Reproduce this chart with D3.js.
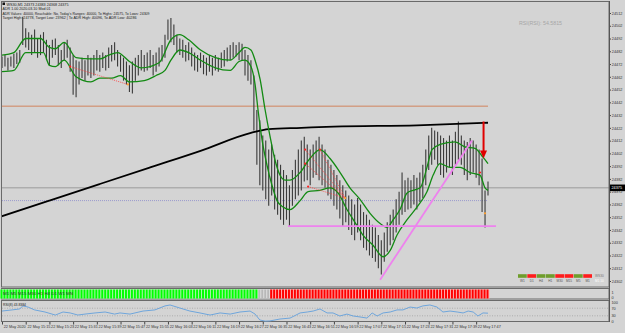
<!DOCTYPE html>
<html>
<head>
<meta charset="utf-8">
<script src="https://cdn.jsdelivr.net/npm/d3@7"></script>
<style>
  body { margin: 0; background: #d4d4d4; }
  svg { display: block; font-family: "Liberation Sans", Arial, sans-serif; }
</style>
</head>
<body>
<svg id="chart" width="625" height="333"></svg>
<script>
// WS30 M1 bars, 22 May 2020
const highs = [
  24478,24479,24477,24478,24480,24481,24483,24509,24500,24497,
  24495,24499,24492,24495,24497,24491,24487,24491,24492,24487,
  24483,24489,24491,24485,24479,24475,24474,24477,24475,24479,
  24477,24479,24483,24479,24481,24479,24485,24487,24489,24483,
  24479,24477,24474,24471,24474,24477,24479,24483,24479,24481,
  24483,24479,24481,24485,24487,24495,24507,24508,24503,24495,
  24492,24491,24487,24489,24485,24481,24479,24481,24479,24477,
  24479,24477,24479,24477,24481,24483,24485,24487,24489,24487,
  24489,24488,24483,24479,24475,24463,24436,24428,24416,24412,
  24405,24409,24401,24397,24393,24389,24385,24377,24389,24397,
  24405,24412,24415,24409,24405,24409,24412,24415,24409,24405,
  24397,24393,24389,24385,24381,24377,24373,24369,24366,24362,
  24367,24362,24356,24354,24350,24346,24344,24338,24334,24340,
  24348,24354,24358,24366,24372,24387,24381,24383,24381,24385,
  24383,24387,24393,24405,24416,24422,24420,24419,24416,24414,
  24412,24416,24412,24419,24427,24416,24412,24411,24414,24412,
  24409,24405,24398,24373,24380
];
const lows = [
  24469,24470,24467,24470,24469,24472,24473,24487,24485,24483,
  24479,24481,24477,24479,24481,24475,24471,24477,24479,24471,
  24469,24475,24477,24466,24448,24446,24456,24461,24459,24463,
  24461,24463,24467,24466,24469,24467,24469,24474,24475,24470,
  24466,24459,24456,24450,24449,24459,24463,24467,24466,24467,
  24469,24463,24466,24470,24474,24477,24491,24489,24487,24481,
  24479,24477,24474,24475,24470,24467,24466,24469,24464,24463,
  24466,24463,24467,24466,24469,24470,24474,24475,24477,24478,
  24475,24475,24463,24459,24456,24420,24393,24377,24373,24366,
  24361,24369,24358,24354,24350,24346,24350,24345,24361,24366,
  24369,24373,24380,24381,24377,24383,24385,24381,24377,24375,
  24369,24366,24361,24358,24351,24345,24348,24342,24338,24334,
  24340,24334,24328,24326,24322,24320,24317,24312,24307,24317,
  24325,24330,24334,24340,24346,24354,24356,24358,24359,24362,
  24358,24364,24367,24377,24389,24393,24397,24393,24385,24383,
  24387,24391,24385,24393,24397,24393,24385,24381,24385,24387,
  24383,24377,24356,24344,24369
];

// indicator lines as [bar index, price]
const maLine = [[-1,24352],[16,24365],[33,24378],[50,24391],[67,24404],[84,24418],
  [90,24421],[101,24422],[112,24423],[140,24424],[164,24426]];
const upperBand = [[0,24479],[4,24481],[8,24492],[13,24492],[16,24485],[18,24484],[21,24489],
  [25,24477],[30,24476],[33,24476],[36,24479],[39,24481],[43,24474],[47,24469],[53,24473],
  [57,24491],[60,24495],[63,24491],[67,24483],[72,24477],[77,24475],[80,24481],[82,24485],
  [84,24483],[85.4,24475],[87.1,24460],[88.8,24436],[90.4,24416],[92.1,24397],[93.8,24385],
  [95.5,24381],[97.2,24381],[100.6,24387],[103.9,24398],[107.3,24405],[110.7,24398],
  [114.1,24387],[117.4,24375],[120.8,24366],[124.2,24355],[127.6,24347],[129.9,24344],
  [132,24350],[134.3,24358],[136.7,24371],[138.7,24373],[141.1,24375],[143.4,24391],
  [145.1,24405],[147.8,24409],[152.9,24411],[156.3,24407],[159.6,24406],[162.3,24399],[164,24394]];
const lowerBand = [[0,24466],[4,24467],[8,24481],[14,24481],[16,24471],[18,24470],[21,24475],
  [25,24462],[30,24458],[33,24461],[37,24461],[40,24463],[43,24458],[48,24459],[52,24463],
  [55,24467],[57,24475],[60,24483],[63,24481],[67,24475],[72,24469],[77,24467],[80,24474],
  [82,24475],[84,24470],[85.4,24456],[86.4,24436],[87.8,24412],[89.4,24393],[91.1,24377],
  [92.8,24365],[94.8,24360],[97.2,24358],[100.6,24365],[103.3,24372],[107.3,24373],
  [110.7,24375],[113.4,24371],[116.4,24358],[119.1,24348],[121.8,24338],[125.2,24330],
  [128.6,24321],[131,24326],[133.3,24338],[136.7,24350],[140.4,24361],[143.4,24372],
  [145.5,24385],[147.8,24394],[151.2,24391],[154.6,24391],[158,24387],[161.3,24385],
  [163,24375],[164,24373]];

// drawn objects
const pinkLines = [[[96.5,24345],[166.7,24345]], [[127.6,24303],[158.6,24412]]];
const redDotted = [[[23,24470],[42.5,24456]], [[102.3,24405],[115.8,24367]],
  [[107.3,24405],[115.8,24367]], [[102.3,24394],[115.8,24367]], [[103.3,24376],[115.8,24367]]];
const redDots = [[23,24470],[102.3,24405],[107.3,24405],[102.3,24394],[103.3,24376],[161.3,24387]];
const orangeDots = [[42.5,24456],[115.8,24367],[163,24355]];
const arrow = { idx: 162.5, from: 24427, to: 24398 };
const orangeLevel = 24439;
const dottedLevel = 24365;
const bidPrice = 24375;

const priceTicks = d3.range(24512, 24301, -10);
const timeIdx = d3.range(0, 161, 8);
const timeLabels = ["22 May 2020","22 May 15:15","22 May 15:23","22 May 15:31","22 May 15:39",
  "22 May 15:47","22 May 15:55","22 May 16:03","22 May 16:11","22 May 16:19","22 May 16:27",
  "22 May 16:35","22 May 16:43","22 May 16:51","22 May 16:59","22 May 17:07","22 May 17:15",
  "22 May 17:23","22 May 17:31","22 May 17:39","22 May 17:47"];

// trend histogram runs and RSI(8)
const histRuns = [["up", 87], ["flat", 4], ["down", 74]];
const rsiPoints = [[0,55],[3.4,61],[6,66],[7,82],[8.8,76],[11,61],[14.5,50],[18,34],[20.6,50],
  [23,45],[25.6,34],[28,39],[31.4,45],[34.8,50],[38,39],[39.8,45],[43.2,39],[47.6,55],[51.6,61],
  [55,82],[56.7,87],[60,71],[63.4,55],[66.8,45],[70.2,34],[73.6,45],[77,39],[80.3,50],[83.7,55],
  [85.4,39],[87,8],[88.8,2],[90.4,3],[93.8,13],[97.2,18],[100.6,45],[103,50],[105,55],[107.3,66],
  [109.7,45],[111.7,45],[114,29],[116.4,39],[118.5,29],[120.8,24],[123.2,18],[124.9,45],[126.6,29],
  [128.6,45],[131,50],[133.3,61],[135.3,61],[137.7,76],[140,71],[142,82],[144.4,87],[146.8,76],
  [148.8,50],[151.2,55],[153.6,50],[155.6,45],[157.3,55],[159,50],[160.6,29],[162.3,45],[164,43.8]];
const rsiLevels = [70, 30];

const tfLabels = ["W1","D1","H4","H1","M30","M15","M5","M1"];
const tfStates = [1,-1,1,1,-1,-1,1,-1];

const headerLines = [
  "WS30,M1  24373 24383 24368 24375",
  "ADR 1.00 2020.03.10 Mod 01",
  "ADR Values: 40000, Reachable: No, Today's Ranges: 40000, To Highs: 24575, To Lows: 24309",
  "Target High: 24778, Target Low: 23962 | To ADR High: 40096, To ADR Low: 40286"
];
const headerWidths = [62, 48, 147, 134];

// ---------------------------------------------------------------
const svg = d3.select("#chart");
const W = 625, H = 333, axisX = 609;
const FONT = 3.8;

const x = d3.scaleLinear().domain([0, 164]).range([2, 488]);
const y = d3.scaleLinear().domain([24302, 24512]).range([281, 13]);
const yr = d3.scaleLinear().domain([0, 100]).range([321.5, 302.5]);
const step = x(1) - x(0);

svg.append("rect").attr("width", W).attr("height", H).attr("fill", "#d4d4d4");

svg.append("defs").append("clipPath").attr("id", "clipMain")
  .append("rect").attr("x", 1).attr("y", 2).attr("width", axisX - 1).attr("height", 285);

const main = svg.append("g").attr("clip-path", "url(#clipMain)");

// horizontal levels
main.append("line").attr("x1", 0).attr("x2", x(164)).attr("y1", y(orangeLevel)).attr("y2", y(orangeLevel))
  .attr("stroke", "#d2855e").attr("stroke-width", 1);
main.append("line").attr("x1", 0).attr("x2", x(164)).attr("y1", y(dottedLevel)).attr("y2", y(dottedLevel))
  .attr("stroke", "#8c8ccc").attr("stroke-width", 0.8).attr("stroke-dasharray", "1,1");
main.append("line").attr("x1", 0).attr("x2", axisX).attr("y1", y(bidPrice)).attr("y2", y(bidPrice))
  .attr("stroke", "#9a9a9a").attr("stroke-width", 1);

// bars
main.selectAll("line.bar").data(highs).join("line").attr("class", "bar")
  .attr("x1", (d, i) => x(i)).attr("x2", (d, i) => x(i))
  .attr("y1", d => y(d)).attr("y2", (d, i) => y(lows[i]))
  .attr("stroke", "#3a3a3a").attr("stroke-width", 1.1);

const line = d3.line().x(d => x(d[0])).y(d => y(d[1])).curve(d3.curveMonotoneX);

main.append("path").attr("d", line(maLine)).attr("fill", "none")
  .attr("stroke", "#000").attr("stroke-width", 1.8);
[upperBand, lowerBand].forEach(b => {
  main.append("path").attr("d", line(b)).attr("fill", "none")
    .attr("stroke", "#138a13").attr("stroke-width", 1.3);
});

// pink trend lines
pinkLines.forEach(s => {
  main.append("line").attr("x1", x(s[0][0])).attr("y1", y(s[0][1]))
    .attr("x2", x(s[1][0])).attr("y2", y(s[1][1]))
    .attr("stroke", "#ee82ee").attr("stroke-width", 1.8);
});

// red dotted pattern lines
redDotted.forEach(s => {
  main.append("line").attr("x1", x(s[0][0])).attr("y1", y(s[0][1]))
    .attr("x2", x(s[1][0])).attr("y2", y(s[1][1]))
    .attr("stroke", "#ff3c3c").attr("stroke-width", 0.8).attr("stroke-dasharray", "1,1");
});
main.selectAll("circle.rd").data(redDots).join("circle").attr("class", "rd")
  .attr("cx", d => x(d[0])).attr("cy", d => y(d[1])).attr("r", 1.1).attr("fill", "#ff2020");
main.selectAll("circle.od").data(orangeDots).join("circle").attr("class", "od")
  .attr("cx", d => x(d[0])).attr("cy", d => y(d[1])).attr("r", 1.1).attr("fill", "#ffa030");

// red arrow
const ax = x(arrow.idx), ay0 = y(arrow.from), ay1 = y(arrow.to);
main.append("line").attr("x1", ax).attr("x2", ax).attr("y1", ay0).attr("y2", ay1 - 5)
  .attr("stroke", "#e00000").attr("stroke-width", 2);
main.append("path").attr("d", `M${ax - 3.5},${ay1 - 8}L${ax + 3.5},${ay1 - 8}L${ax},${ay1}Z`)
  .attr("fill", "#e00000");

// header text
svg.append("path").attr("d", "M2.5,2.5h2.5v2.5h-2.5z").attr("fill", "#111");
headerLines.forEach((t, i) => {
  svg.append("text").attr("x", i === 0 ? 6.5 : 2.5).attr("y", 5.5 + i * 4.6)
    .attr("font-size", FONT).attr("fill", "#1a1a1a")
    .attr("textLength", headerWidths[i]).attr("lengthAdjust", "spacingAndGlyphs").text(t);
});
svg.append("text").attr("x", 519).attr("y", 24.5).attr("font-size", 4.8)
  .attr("fill", "#a6a6a6").attr("textLength", 43).attr("lengthAdjust", "spacingAndGlyphs")
  .text("RSI(RSI): 54.5815");

// timeframe table
const tfx = d3.scaleBand().domain(tfLabels).range([518, 592]).paddingInner(0.06);
const tf = svg.append("g");
tf.selectAll("rect").data(tfLabels).join("rect")
  .attr("x", d => tfx(d)).attr("y", 274.2).attr("width", tfx.bandwidth()).attr("height", 3.6)
  .attr("fill", (d, i) => tfStates[i] > 0 ? "#6f9d2c" : "#ff1c1c");
tf.selectAll("text").data(tfLabels).join("text")
  .attr("x", d => tfx(d) + tfx.bandwidth() / 2).attr("y", 282.2)
  .attr("text-anchor", "middle").attr("font-size", 3.2).attr("fill", "#555").text(d => d);
svg.append("text").attr("x", 595).attr("y", 276.5).attr("font-size", 3.2).attr("fill", "#777").text("WS30");
svg.append("text").attr("x", 595).attr("y", 282.2).attr("font-size", 3.2).attr("fill", "#fff").text("M1 10");

// main frame
svg.append("rect").attr("x", 1.5).attr("y", 1.5).attr("width", axisX - 1.5).attr("height", 285.5)
  .attr("fill", "none").attr("stroke", "#6a6a6a").attr("stroke-width", 1);

// price axis
const yAxis = d3.axisRight(y).tickValues(priceTicks).tickSize(2).tickPadding(0.8).tickFormat(d3.format("d"));
svg.append("g").attr("transform", `translate(${axisX},0)`).call(yAxis)
  .call(g => g.select(".domain").remove())
  .call(g => g.selectAll("line").attr("stroke", "#444"))
  .call(g => g.selectAll("text").attr("font-size", FONT).attr("fill", "#333")
    .attr("font-family", "Liberation Sans, Arial, sans-serif"));

svg.append("rect").attr("x", 610).attr("y", y(bidPrice) - 3.3).attr("width", 15).attr("height", 6.6).attr("fill", "#000");
svg.append("text").attr("x", 611.5).attr("y", y(bidPrice) + 1.4).attr("font-size", FONT)
  .attr("fill", "#fff").text(bidPrice);

// histogram sub-window
const histStates = histRuns.flatMap(([s, n]) => d3.range(n).map(() => s));
const histColors = { up: ["#00ff00", "#b0f5b0"], flat: ["#b8b8b8", "#e0e0e0"], down: ["#ff0000", "#ffb0b0"] };
const hist = svg.append("g");
hist.append("rect").attr("x", 1.5).attr("y", 288.5).attr("width", axisX - 1.5).attr("height", 10.5)
  .attr("fill", "#d4d4d4").attr("stroke", "#6a6a6a");
hist.selectAll("rect.hb").data(histStates).join("rect").attr("class", "hb")
  .attr("x", (d, i) => x(i) - step / 2).attr("width", step).attr("y", 289.5).attr("height", 9)
  .attr("fill", d => histColors[d][1]);
hist.selectAll("rect.hs").data(histStates).join("rect").attr("class", "hs")
  .attr("x", (d, i) => x(i) - step / 2).attr("width", step - 1).attr("y", 289.5).attr("height", 9)
  .attr("fill", d => histColors[d][0]);
hist.append("text").attr("x", 3).attr("y", 295).attr("font-size", 3.2).attr("fill", "#333")
  .attr("textLength", 70).attr("lengthAdjust", "spacingAndGlyphs").text("M1 M5 M15 M30 H1 H4 D1 W1 MN");
svg.append("text").attr("x", 611.5).attr("y", 293.5).attr("font-size", FONT).attr("fill", "#333").text("1");
svg.append("text").attr("x", 611.5).attr("y", 298.5).attr("font-size", FONT).attr("fill", "#333").text("0");

// RSI sub-window
const rsi = svg.append("g");
rsi.append("rect").attr("x", 1.5).attr("y", 300.5).attr("width", axisX - 1.5).attr("height", 21)
  .attr("fill", "#d4d4d4").attr("stroke", "#6a6a6a");
rsiLevels.forEach(v => {
  rsi.append("line").attr("x1", 2).attr("x2", axisX).attr("y1", yr(v)).attr("y2", yr(v))
    .attr("stroke", "#9c9c9c").attr("stroke-width", 0.7).attr("stroke-dasharray", "1,1.5");
});
rsi.append("path").attr("d", d3.line().x(d => x(d[0])).y(d => yr(d[1]))(rsiPoints))
  .attr("fill", "none").attr("stroke", "#6fa6dc").attr("stroke-width", 1);
rsi.append("text").attr("x", 3).attr("y", 305.5).attr("font-size", 3.4).attr("fill", "#222").text("RSI(8) 43.8384");
[100, 70, 30, 0].forEach(v => {
  svg.append("text").attr("x", 611.5).attr("y", yr(v) + 1.4).attr("font-size", FONT).attr("fill", "#333").text(v);
});

// right axis line
svg.append("line").attr("x1", axisX + 0.5).attr("x2", axisX + 0.5).attr("y1", 1).attr("y2", 322)
  .attr("stroke", "#555");

// time axis
const xAxis = d3.axisBottom(x).tickValues(timeIdx).tickSize(2.5).tickPadding(0.5)
  .tickFormat((d, i) => timeLabels[i]);
svg.append("g").attr("transform", "translate(0,322)").call(xAxis)
  .call(g => g.select(".domain").remove())
  .call(g => g.selectAll("line").attr("stroke", "#444"))
  .call(g => g.selectAll("text").attr("font-size", FONT).attr("fill", "#333")
    .attr("text-anchor", "start").attr("x", 1.2)
    .attr("font-family", "Liberation Sans, Arial, sans-serif"));
</script>
</body>
</html>
